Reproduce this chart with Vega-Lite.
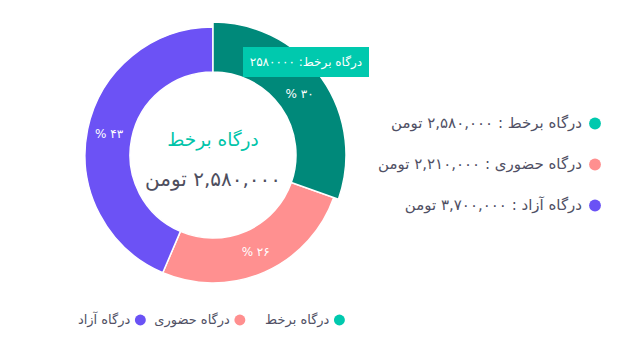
{
  "$schema": "https://vega.github.io/schema/vega-lite/v6.json",
  "background": "white",
  "padding": 0,
  "config": {"view": {"stroke": null}, "font": "DejaVu Sans", "text": {"font": "DejaVu Sans"}},
  "datasets": {
    "gw": [
      {"name": "درگاه برخط", "value": 2580000, "rank": 1, "pct": "% ۳۰", "amount": "\u200f۲,۵۸۰,۰۰۰ تومن", "summary": "درگاه برخط : ۲,۵۸۰,۰۰۰ تومن", "tip": "درگاه برخط: ۲۵۸۰۰۰۰"},
      {"name": "درگاه حضوری", "value": 2210000, "rank": 2, "pct": "% ۲۶", "amount": "\u200f۲,۲۱۰,۰۰۰ تومن", "summary": "درگاه حضوری : ۲,۲۱۰,۰۰۰ تومن", "tip": "درگاه حضوری: ۲۲۱۰۰۰۰"},
      {"name": "درگاه آزاد", "value": 3700000, "rank": 3, "pct": "% ۴۳", "amount": "\u200f۳,۷۰۰,۰۰۰ تومن", "summary": "درگاه آزاد : ۳,۷۰۰,۰۰۰ تومن", "tip": "درگاه آزاد: ۳۷۰۰۰۰۰"}
    ]
  },
  "columns": 2,
  "spacing": {"column": 142, "row": 0},
  "bounds": "flush",
  "concat": [
    {
      "width": 426,
      "height": 310,
      "data": {"name": "gw"},
      "layer": [
        {
          "mark": {"type": "arc", "innerRadius": 83, "outerRadius": 128, "stroke": "white", "strokeWidth": 1.5},
          "encoding": {
            "theta": {"field": "value", "type": "quantitative", "stack": true},
            "order": {"field": "rank", "type": "quantitative"},
            "color": {"field": "name", "type": "nominal", "legend": null,
              "scale": {"domain": ["درگاه برخط", "درگاه حضوری", "درگاه آزاد"], "range": ["#00897A", "#FF9090", "#6C52F5"]}}
          }
        },
        {
          "transform": [{"filter": "datum.rank == 1"}],
          "mark": {"type": "arc", "innerRadius": 83, "outerRadius": 133, "stroke": "white", "strokeWidth": 1.5},
          "encoding": {
            "theta": {"field": "value", "type": "quantitative", "stack": true},
            "order": {"field": "rank", "type": "quantitative"},
            "color": {"field": "name", "type": "nominal", "legend": null}
          }
        },
        {
          "mark": {"type": "text", "radius": 106, "fill": "white", "fontSize": 12, "baseline": "middle"},
          "encoding": {
            "theta": {"field": "value", "type": "quantitative", "stack": true},
            "order": {"field": "rank", "type": "quantitative"},
            "text": {"field": "pct"}
          }
        },
        {
          "transform": [{"filter": "datum.rank == 1"}],
          "mark": {"type": "point", "shape": "M0.3,-1.08H1.56V-0.78H0.3Z", "size": 40000, "filled": true, "opacity": 1, "fill": "#00C9AE", "strokeWidth": 0},
          "encoding": {}
        },
        {
          "transform": [{"filter": "datum.rank == 1"}],
          "mark": {"type": "text", "radius": 131, "dx": -14, "dy": -17, "fontSize": 12, "fill": "white", "baseline": "middle"},
          "encoding": {
            "theta": {"field": "value", "type": "quantitative", "stack": true},
            "order": {"field": "rank", "type": "quantitative"},
            "text": {"field": "tip"}
          }
        },
        {
          "transform": [{"filter": "datum.rank == 1"}],
          "mark": {"type": "text", "dy": -15, "fontSize": 18.5, "fill": "#00C4A9", "baseline": "middle"},
          "encoding": {"text": {"field": "name"}}
        },
        {
          "transform": [{"filter": "datum.rank == 1"}],
          "mark": {"type": "text", "dy": 25, "fontSize": 20, "fill": "#4E4E5E", "baseline": "middle"},
          "encoding": {"text": {"field": "amount"}}
        }
      ]
    },
    {
      "width": 54,
      "height": 310,
      "data": {"name": "gw"},
      "layer": [
        {
          "mark": {"type": "point", "filled": true, "size": 140, "opacity": 1},
          "encoding": {
            "y": {"field": "rank", "type": "quantitative", "axis": null,
              "scale": {"domain": [-2.012, 5.549], "reverse": true, "zero": false, "nice": false}},
            "fill": {"field": "name", "type": "nominal", "legend": null,
              "scale": {"domain": ["درگاه برخط", "درگاه حضوری", "درگاه آزاد"], "range": ["#00C9AE", "#FF8F8F", "#6A52F5"]}}
          }
        },
        {
          "mark": {"type": "text", "align": "right", "dx": -13, "baseline": "middle", "fontSize": 15, "fill": "#505064"},
          "encoding": {
            "y": {"field": "rank", "type": "quantitative", "axis": null,
              "scale": {"domain": [-2.012, 5.549], "reverse": true, "zero": false, "nice": false}},
            "text": {"field": "summary"}
          }
        }
      ]
    },
    {
      "width": 426,
      "height": 20,
      "data": {"name": "gw"},
      "layer": [
        {
          "mark": {"type": "point", "filled": true, "size": 120, "opacity": 1},
          "encoding": {
            "x": {"field": "name", "type": "nominal", "axis": null, "bandPosition": 0.77,
              "scale": {"type": "band", "domain": ["درگاه آزاد", "درگاه حضوری", "درگاه برخط"], "paddingInner": 0, "paddingOuter": 0.64}},
            "fill": {"field": "name", "type": "nominal", "legend": null,
              "scale": {"domain": ["درگاه برخط", "درگاه حضوری", "درگاه آزاد"], "range": ["#00C9AE", "#FF8F8F", "#6A52F5"]}}
          }
        },
        {
          "mark": {"type": "text", "align": "right", "dx": -10, "baseline": "middle", "fontSize": 13, "fill": "#505064"},
          "encoding": {
            "x": {"field": "name", "type": "nominal", "axis": null, "bandPosition": 0.77,
              "scale": {"type": "band", "domain": ["درگاه آزاد", "درگاه حضوری", "درگاه برخط"], "paddingInner": 0, "paddingOuter": 0.64}},
            "text": {"field": "name"}
          }
        }
      ]
    }
  ]
}
